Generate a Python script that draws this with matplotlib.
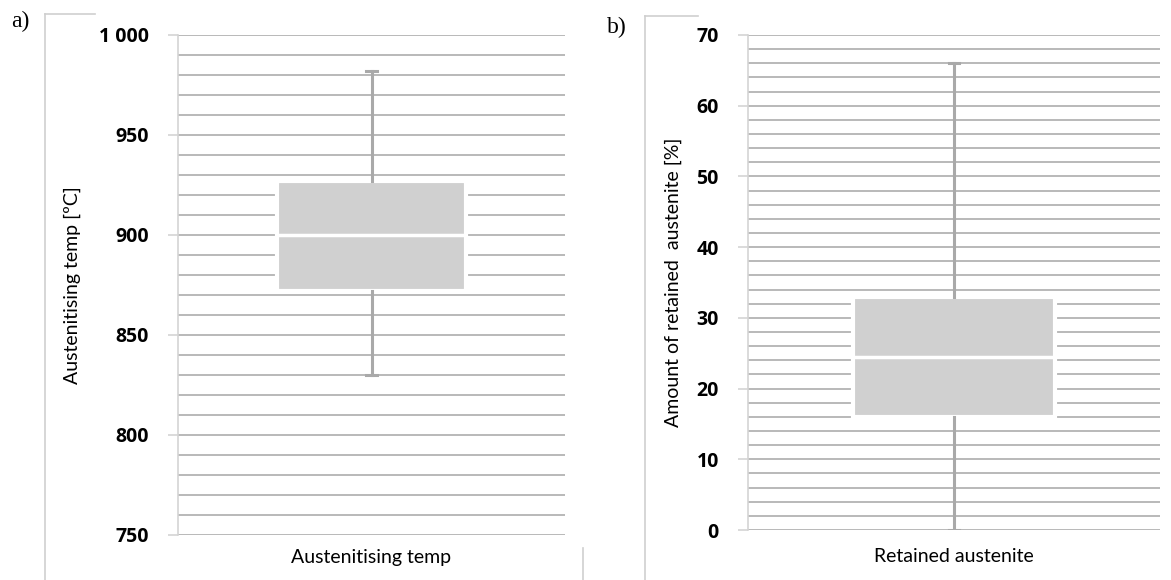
import matplotlib
matplotlib.use("Agg")
import matplotlib.pyplot as plt
from matplotlib.lines import Line2D
import numpy as np

# ---- data ----
cat_a = "Austenitising temp"
stats_a = dict(whislo=830, q1=872, med=900, q3=927, whishi=982)
yticks_a = [750, 800, 850, 900, 950, 1000]
ylabels_a = ["750", "800", "850", "900", "950", "1 000"]

cat_b = "Retained austenite"
stats_b = dict(whislo=0, q1=16, med=24.5, q3=33, whishi=66)
yticks_b = [0, 10, 20, 30, 40, 50, 60, 70]
ylabels_b = ["0", "10", "20", "30", "40", "50", "60", "70"]

W, H = 1171, 580
fig = plt.figure(figsize=(W / 100, H / 100), dpi=100)

GRID = "#b3b3b3"
BOX = "#d0d0d0"
WHISK = "#a9a9a9"
FONT = ["Lato", "DejaVu Sans"]
TFONT = ["Open Sans", "DejaVu Sans"]


def panel(rect, stats, cat, yticks, ylabels, ylim, minor_step, ylabel,
          ylab_x, xlab_y):
    ax = fig.add_axes(rect)
    ax.set_ylim(*ylim)
    ax.set_xlim(0, 1)
    ax.set_yticks(yticks)
    ax.set_yticklabels(ylabels, fontweight="bold", fontsize=14, family=TFONT)
    ax.set_yticks(np.arange(ylim[0], ylim[1] + 1e-9, minor_step), minor=True)
    ax.grid(True, which="both", axis="y", color=GRID, lw=1.3, zorder=0)
    ax.set_axisbelow(True)
    for s in ["top", "right", "bottom"]:
        ax.spines[s].set_visible(False)
    ax.spines["left"].set_color("#d4d4d4")
    ax.spines["left"].set_linewidth(1.2)
    ax.tick_params(axis="y", which="major", length=7, color="#d4d4d4",
                   width=1.2, pad=14)
    ax.tick_params(axis="y", which="minor", length=0)
    ax.set_xticks([])
    ax.set_xlabel(cat, fontsize=14, family=FONT, va="center")
    ax.xaxis.set_label_coords(0.5, xlab_y)
    ax.set_ylabel(ylabel, fontsize=14, family=FONT, va="center")
    ax.yaxis.set_label_coords(ylab_x, 0.5)
    st = dict(stats, label="")
    ax.bxp([st], positions=[0.5], widths=[0.49], showfliers=False,
           patch_artist=True, manage_ticks=False,
           boxprops=dict(facecolor=BOX, edgecolor="white", linewidth=3),
           medianprops=dict(color="white", linewidth=2.5),
           whiskerprops=dict(color=WHISK, linewidth=2.2),
           capprops=dict(color=WHISK, linewidth=2.2),
           capwidths=[0.026])
    return ax


panel([178 / W, 1 - 535 / H, 387 / W, 500 / H], stats_a, cat_a,
      yticks_a, ylabels_a, (750, 1000), 10, "Austenitising temp [ºC]",
      (72 - 178) / 387, -23 / 500)
panel([748 / W, 1 - 530 / H, 412 / W, 495 / H], stats_b, cat_b,
      yticks_b, ylabels_b, (0, 70), 2, "Amount of retained  austenite [%]",
      (673 - 748) / 412, -27 / 495)

# partial chart frames
FR = "#cfcfcf"
def fl(x, y):
    fig.add_artist(Line2D([v / W for v in x], [1 - v / H for v in y], color=FR, lw=1.2))

fl([45, 45], [14, 580]); fl([45, 95], [14, 14]); fl([583, 583], [548, 580])
fl([645, 645], [16, 580]); fl([645, 698], [16, 16])

fig.text(11 / W, 1 - 21 / H, "a)", family="Liberation Serif", fontsize=17, va="center")
fig.text(607 / W, 1 - 27 / H, "b)", family="Liberation Serif", fontsize=17, va="center")

fig.savefig("out.png", dpi=100)
